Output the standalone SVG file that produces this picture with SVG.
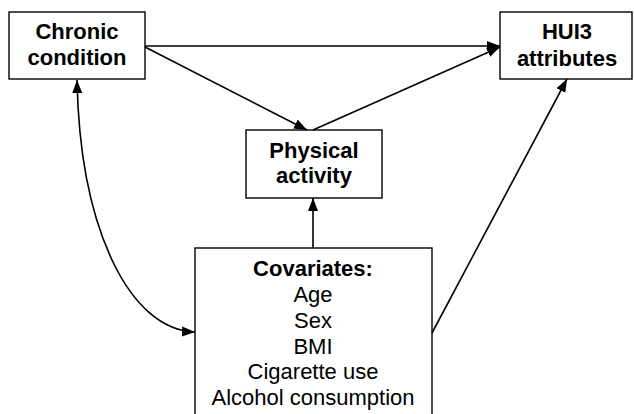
<svg xmlns="http://www.w3.org/2000/svg" width="634" height="414" viewBox="0 0 634 414">
<style>
.box{fill:#fff;stroke:#000;stroke-width:1.4}
.b{font-family:"Liberation Sans",Arial,sans-serif;font-weight:bold;font-size:22px;text-anchor:middle;fill:#000}
.r{font-family:"Liberation Sans",Arial,sans-serif;font-size:22px;text-anchor:middle;fill:#000}
.c{fill:none;stroke:#000;stroke-width:1.6}
</style>
<defs>
<marker id="ah" markerUnits="userSpaceOnUse" markerWidth="14" markerHeight="12" viewBox="0 0 14 12" refX="13" refY="6" orient="auto-start-reverse">
<path d="M0,1 L13,6 L0,11 Z" fill="#000"/>
</marker>
</defs>
<g id="chronic">
<rect class="box" x="9" y="12" width="136" height="67"/>
<text class="b" x="77" y="39">Chronic</text>
<text class="b" x="77" y="65">condition</text>
</g>
<g id="hui3">
<rect class="box" x="500" y="12" width="132" height="67"/>
<text class="b" x="567" y="39">HUI3</text>
<text class="b" x="567" y="66">attributes</text>
</g>
<g id="physical">
<rect class="box" x="246" y="130" width="136" height="68"/>
<text class="b" x="314" y="158">Physical</text>
<text class="b" x="314" y="183">activity</text>
</g>
<g id="covariates">
<rect class="box" x="195" y="248" width="237" height="170"/>
<text class="b" x="313" y="276">Covariates:</text>
<text class="r" x="313" y="302">Age</text>
<text class="r" x="313" y="328">Sex</text>
<text class="r" x="313" y="354">BMI</text>
<text class="r" x="313" y="379">Cigarette use</text>
<text class="r" x="313" y="405">Alcohol consumption</text>
</g>
<g id="connectors">
<line class="c" x1="145" y1="46" x2="500" y2="46" marker-end="url(#ah)"/>
<line class="c" x1="145" y1="47" x2="307" y2="130" marker-end="url(#ah)"/>
<line class="c" x1="313" y1="130" x2="500" y2="47" marker-end="url(#ah)"/>
<line class="c" x1="313" y1="248" x2="313" y2="198" marker-end="url(#ah)"/>
<line class="c" x1="432" y1="333" x2="567" y2="79" marker-end="url(#ah)"/>
<path class="c" d="M77,80 C80,230 130,330 195,332" marker-start="url(#ah)" marker-end="url(#ah)"/>
</g>
</svg>
